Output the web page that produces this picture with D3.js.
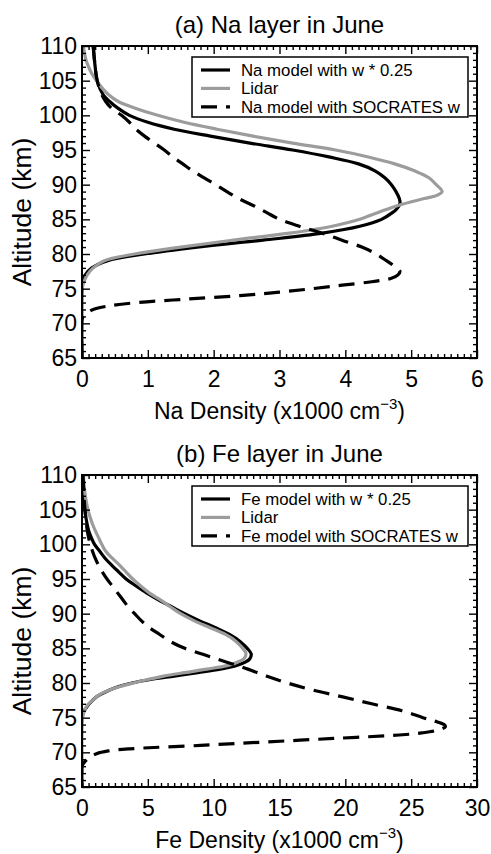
<!DOCTYPE html>
<html>
<head>
<meta charset="utf-8">
<script src="https://cdn.jsdelivr.net/npm/d3@7/dist/d3.min.js"></script>
<style>
  html, body { margin: 0; padding: 0; background: #fff; }
  svg { display: block; font-family: "Liberation Sans", Arial, Helvetica, sans-serif; }
</style>
</head>
<body>
<svg id="chart" width="491" height="854"></svg>
<script>
// ---- Altitude ticks shared by both panels (km) ----
const altTicks = [65, 70, 75, 80, 85, 90, 95, 100, 105, 110];

// ---- Panel (a): Na layer ----
const naTicks = [0, 1, 2, 3, 4, 5, 6];
const naModelAlt = [110, 107, 105, 103, 102, 101, 100, 99, 98, 97, 96, 95, 94, 93, 92, 91, 90, 89, 88, 87.3, 86.5, 86, 85, 84, 83, 82, 81, 80, 79, 78, 77, 76, 75, 65];
const naModelVal = [0.17, 0.2, 0.23, 0.32, 0.42, 0.55, 0.72, 1.0, 1.4, 1.95, 2.55, 3.2, 3.75, 4.2, 4.45, 4.6, 4.7, 4.77, 4.82, 4.83, 4.78, 4.72, 4.55, 4.22, 3.65, 2.75, 1.75, 0.95, 0.38, 0.15, 0.05, 0.01, 0, 0];
const naLidarAlt = [110, 108, 107, 106, 105, 104, 103, 102, 101, 100, 99, 98, 97, 96, 95, 94, 93, 92, 91, 90, 89, 88.5, 88, 87, 86, 85, 84, 83, 82, 81, 80, 79, 78, 77, 76, 75];
const naLidarVal = [0.02, 0.06, 0.1, 0.15, 0.22, 0.3, 0.4, 0.55, 0.82, 1.15, 1.55, 2.05, 2.6, 3.2, 3.85, 4.35, 4.75, 5.05, 5.27, 5.38, 5.47, 5.4, 5.2, 4.8, 4.5, 4.22, 3.8, 3.15, 2.3, 1.5, 0.8, 0.33, 0.17, 0.08, 0.03, 0];
const naSocAlt = [110, 107, 105, 103, 102, 101, 100, 99, 98, 97, 96, 95, 94, 93, 92, 91, 90, 89, 88, 87, 86, 85, 84, 83, 82, 81, 80, 79, 78, 77.5, 77, 76.5, 76, 75.5, 75, 74.5, 74, 73.5, 73, 72.5, 72, 71.5, 71, 70.5, 65];
const naSocVal = [0.17, 0.2, 0.23, 0.3, 0.36, 0.45, 0.6, 0.72, 0.82, 0.95, 1.1, 1.25, 1.38, 1.53, 1.68, 1.85, 2.03, 2.2, 2.38, 2.6, 2.8, 3.0, 3.3, 3.65, 3.95, 4.25, 4.47, 4.63, 4.78, 4.83, 4.8, 4.7, 4.4, 3.95, 3.5, 3.0, 2.4, 1.6, 0.85, 0.4, 0.17, 0.08, 0.02, 0, 0];

// ---- Panel (b): Fe layer ----
const feTicks = [0, 5, 10, 15, 20, 25, 30];
const feModelAlt = [110, 108, 106, 104.5, 103, 102, 101, 100, 99, 98, 97, 96, 95, 94, 93, 92, 91, 90, 89, 88, 87, 86, 85, 84.2, 83.5, 83, 82.5, 82, 81.5, 81, 80.5, 80, 79.5, 79, 78, 77, 76.5, 76, 75.5, 75, 65];
const feModelVal = [0.08, 0.12, 0.18, 0.25, 0.38, 0.5, 0.7, 0.95, 1.35, 1.75, 2.25, 2.8, 3.35, 4.1, 4.9, 5.8, 6.8, 7.8, 8.9, 10.1, 11.2, 12.0, 12.55, 12.85, 12.75, 12.4, 11.7, 10.5, 8.8, 7.0, 5.2, 3.8, 2.8, 2.1, 1.1, 0.55, 0.35, 0.15, 0.05, 0, 0];
const feLidarAlt = [110, 107, 105, 104, 103, 102, 101, 100, 99, 98, 97, 96, 95, 94, 93, 92, 91, 90, 89, 88, 87, 86, 85, 84.3, 83.5, 83, 82.5, 82, 81.5, 81, 80.5, 80, 79.5, 79, 78.5, 78, 77.5, 77, 76.5, 76, 75.5, 75, 74.5];
const feLidarVal = [0.1, 0.25, 0.45, 0.6, 0.78, 1.0, 1.25, 1.5, 1.8, 2.3, 2.85, 3.35, 3.85, 4.45, 5.1, 5.95, 6.7, 7.5, 8.5, 9.7, 10.9, 11.7, 12.2, 12.45, 12.3, 11.8, 11.0, 9.5, 7.8, 6.2, 5.0, 3.9, 2.9, 2.1, 1.5, 1.1, 0.8, 0.5, 0.3, 0.2, 0.1, 0.05, 0];
const feSocAlt = [110, 108, 106, 104.5, 103, 102, 101, 100, 99, 98, 97, 96, 95, 94, 93, 92, 91, 90, 89, 88, 87, 86, 85, 84, 83, 82, 81, 80, 79, 78, 77, 76, 75, 74.5, 74, 73.7, 73.2, 72.8, 72.5, 72, 71.5, 71, 70.5, 70.2, 69.8, 69.3, 68.9, 68.5, 68.2, 68, 65];
const feSocVal = [0.08, 0.12, 0.18, 0.25, 0.33, 0.4, 0.5, 0.62, 0.8, 1.0, 1.25, 1.55, 1.9, 2.3, 2.7, 3.1, 3.5, 4.0, 4.5, 5.1, 5.9, 6.7, 7.8, 9.4, 11.0, 12.6, 14.0, 15.6, 17.5, 19.8, 22.0, 24.3, 25.9, 26.8, 27.5, 27.6, 27.0, 25.8, 24.1, 19.1, 14.0, 9.0, 3.6, 2.0, 1.1, 0.6, 0.35, 0.15, 0.05, 0, 0];

const panels = [
  {
    title: "(a) Na layer in June",
    element: "Na",
    top: 46,
    xMax: 6,
    xTicks: naTicks,
    minorStep: 0.1,
    series: [
      { name: "Na model with w * 0.25", alt: naModelAlt, val: naModelVal, color: "#000", dash: null },
      { name: "Lidar", alt: naLidarAlt, val: naLidarVal, color: "#9c9c9c", dash: null },
      { name: "Na model with SOCRATES w", alt: naSocAlt, val: naSocVal, color: "#000", dash: "16,9" }
    ]
  },
  {
    title: "(b) Fe layer in June",
    element: "Fe",
    top: 475,
    xMax: 30,
    xTicks: feTicks,
    minorStep: 0.5,
    series: [
      { name: "Fe model with w * 0.25", alt: feModelAlt, val: feModelVal, color: "#000", dash: null },
      { name: "Lidar", alt: feLidarAlt, val: feLidarVal, color: "#9c9c9c", dash: null },
      { name: "Fe model with SOCRATES w", alt: feSocAlt, val: feSocVal, color: "#000", dash: "16,9" }
    ]
  }
];

const svg = d3.select("#chart");
const left = 82, right = 477, plotH = 312;
const tickFont = 23;

panels.forEach((p, pi) => {
  const x = d3.scaleLinear().domain([0, p.xMax]).range([left, right]);
  const y = d3.scaleLinear().domain([65, 110]).range([p.top + plotH, p.top]);
  const g = svg.append("g");
  const clipId = "clip" + pi;
  svg.append("clipPath").attr("id", clipId)
    .append("rect").attr("x", left).attr("y", p.top).attr("width", right - left).attr("height", plotH);

  // title
  g.append("text")
    .attr("x", (left + right) / 2).attr("y", p.top - 13)
    .attr("text-anchor", "middle").attr("font-size", 24)
    .text(p.title);

  // profiles
  const line = d3.line()
    .x(d => x(d[1])).y(d => y(d[0]))
    .curve(d3.curveCatmullRom.alpha(0.5));
  const curves = g.append("g").attr("clip-path", `url(#${clipId})`);
  p.series.forEach(s => {
    const pts = s.alt.map((a, i) => [a, s.val[i]]);
    curves.append("path")
      .attr("d", line(pts))
      .attr("fill", "none")
      .attr("stroke", s.color)
      .attr("stroke-width", 3.2)
      .attr("stroke-dasharray", s.dash)
      .attr("stroke-linejoin", "round");
  });

  // minor ticks
  const xMinor = d3.range(0, p.xMax + 1e-9, p.minorStep).filter(v => !p.xTicks.some(t => Math.abs(t - v) < 1e-6));
  const yMinor = d3.range(65, 110.001, 1).filter(v => v % 5 !== 0);
  const noLabel = () => "";
  const styleAxis = sel => {
    sel.select(".domain").remove();
    sel.selectAll("line").attr("stroke", "#000").attr("stroke-width", 1.4);
  };
  g.append("g").attr("transform", `translate(0,${p.top + plotH})`)
    .call(d3.axisBottom(x).tickValues(xMinor).tickSize(-4).tickFormat(noLabel)).call(styleAxis);
  g.append("g").attr("transform", `translate(0,${p.top})`)
    .call(d3.axisTop(x).tickValues(xMinor).tickSize(-4).tickFormat(noLabel)).call(styleAxis);
  g.append("g").attr("transform", `translate(${left},0)`)
    .call(d3.axisLeft(y).tickValues(yMinor).tickSize(-4).tickFormat(noLabel)).call(styleAxis);
  g.append("g").attr("transform", `translate(${right},0)`)
    .call(d3.axisRight(y).tickValues(yMinor).tickSize(-4).tickFormat(noLabel)).call(styleAxis);

  // major ticks + labels
  const bottomAxis = g.append("g").attr("transform", `translate(0,${p.top + plotH})`)
    .call(d3.axisBottom(x).tickValues(p.xTicks).tickSize(-8).tickPadding(13).tickFormat(d3.format("d")))
    .call(styleAxis);
  bottomAxis.selectAll("text").attr("font-size", tickFont).attr("fill", "#000").attr("font-family", null);
  g.append("g").attr("transform", `translate(0,${p.top})`)
    .call(d3.axisTop(x).tickValues(p.xTicks).tickSize(-8).tickFormat(noLabel)).call(styleAxis);
  const leftAxis = g.append("g").attr("transform", `translate(${left},0)`)
    .call(d3.axisLeft(y).tickValues(altTicks).tickSize(-8).tickPadding(5).tickFormat(d3.format("d")))
    .call(styleAxis);
  leftAxis.selectAll("text").attr("font-size", tickFont).attr("fill", "#000").attr("font-family", null);
  g.append("g").attr("transform", `translate(${right},0)`)
    .call(d3.axisRight(y).tickValues(altTicks).tickSize(-8).tickFormat(noLabel)).call(styleAxis);

  // frame
  g.append("rect")
    .attr("x", left).attr("y", p.top).attr("width", right - left).attr("height", plotH)
    .attr("fill", "none").attr("stroke", "#000").attr("stroke-width", 2);

  // axis titles
  const xt = g.append("text")
    .attr("x", (left + right) / 2).attr("y", p.top + plotH + 61)
    .attr("text-anchor", "middle").attr("font-size", 23);
  xt.append("tspan").text(p.element + " Density (x1000 cm");
  xt.append("tspan").attr("font-size", 15).attr("dy", -10).text("\u22123");
  xt.append("tspan").attr("dy", 10).text(")");

  g.append("text")
    .attr("transform", `translate(31,${p.top + plotH / 2 + 10}) rotate(-90)`)
    .attr("text-anchor", "middle").attr("font-size", 26.5)
    .text("Altitude (km)");

  // legend
  const lx = 192, ly = p.top + 11, lw = 276, lh = 60, rowH = 18.4;
  const lg = g.append("g");
  lg.append("rect")
    .attr("x", lx).attr("y", ly).attr("width", lw).attr("height", lh)
    .attr("fill", "#fff").attr("stroke", "#000").attr("stroke-width", 1.5);
  p.series.forEach((s, i) => {
    const cy = ly + 13 + i * rowH;
    lg.append("line")
      .attr("x1", 201).attr("x2", 230).attr("y1", cy).attr("y2", cy)
      .attr("stroke", s.color).attr("stroke-width", 3.2)
      .attr("stroke-dasharray", s.dash);
    lg.append("text")
      .attr("x", 241).attr("y", cy).attr("dy", "0.36em")
      .attr("font-size", 16.8)
      .text(s.name);
  });
});
</script>
</body>
</html>
